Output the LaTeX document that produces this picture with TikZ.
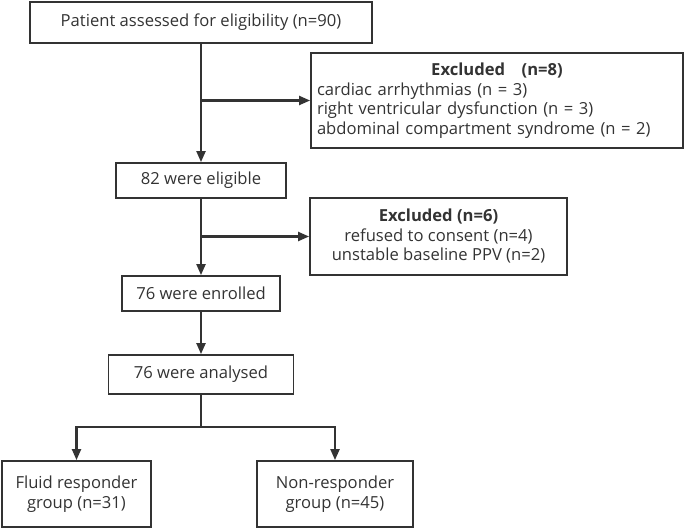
\documentclass[tikz,border=0pt]{standalone}
\usepackage{fontspec}
\setmainfont{Open Sans}
\usetikzlibrary{arrows.meta}
\definecolor{lncol}{HTML}{333333}
\definecolor{tx}{HTML}{333333}
\begin{document}
\begin{tikzpicture}[x=1pt,y=-1pt,
  box/.style={draw=lncol,line width=1.8pt,rectangle,inner sep=0pt,text=tx,font=\fontsize{16.6}{19.5}\selectfont,align=center},
  arr/.style={draw=lncol,line width=2.1pt,-{Triangle[length=11pt,width=9pt]}},
  plainline/.style={draw=lncol,line width=2.1pt}]
\useasboundingbox (0,0) rectangle (685,529);
\node[box,minimum width=342pt,minimum height=41pt] (p) at (201,22.5) {Patient assessed for eligibility (n=90)};
\node[box,minimum width=372pt,minimum height=95pt,align=left,text width=360pt] (e1) at (497,100.5) {\centering\textbf{Excluded\quad(n=8)}\par\raggedright cardiac arrhythmias (n = 3)\\ right ventricular dysfunction (n = 3)\\ abdominal compartment syndrome (n = 2)};
\node[box,minimum width=170pt,minimum height=35pt] (el) at (201,180.5) {82 were eligible};
\node[box,minimum width=257pt,minimum height=77pt] (e2) at (438.5,236.5) {\textbf{Excluded (n=6)}\\ refused to consent (n=4)\\ unstable baseline PPV (n=2)};
\node[box,minimum width=158pt,minimum height=35pt] (en) at (201,293.5) {76 were enrolled};
\node[box,minimum width=185pt,minimum height=39pt] (an) at (201,374.5) {76 were analysed};
\node[box,minimum width=149pt,minimum height=66pt] (fl) at (76.5,494) {Fluid responder\\ group (n=31)};
\node[box,minimum width=156pt,minimum height=66pt] (nr) at (335,494) {Non-responder\\ group (n=45)};
\coordinate (b1) at (201,100.5);
\coordinate (b2) at (201,236.5);
\coordinate (s) at (201,427);
\draw[arr] (p.south) -- (el.north);
\draw[arr] (b1) -- (e1.west);
\draw[arr] (el.south) -- (en.north);
\draw[arr] (b2) -- (e2.west);
\draw[arr] (en.south) -- (an.north);
\draw[plainline] (an.south) -- (s);
\draw[arr] (s) -| (fl.north);
\draw[arr] (s) -| (nr.north);
\end{tikzpicture}
\end{document}
